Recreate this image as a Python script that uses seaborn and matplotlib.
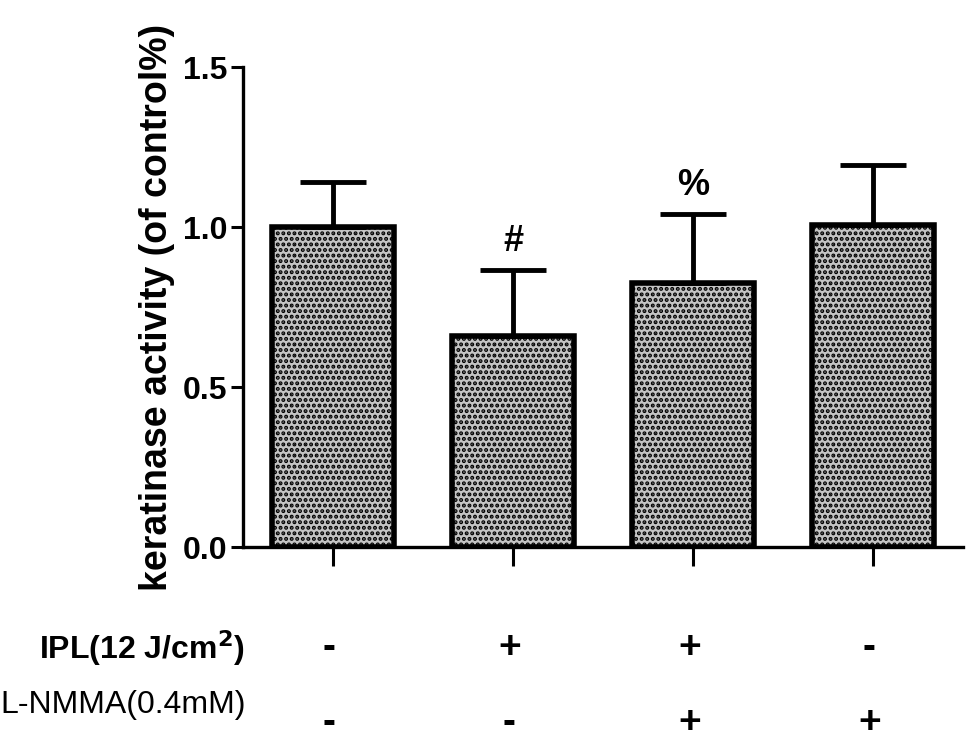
import matplotlib
matplotlib.use("Agg")
import matplotlib.pyplot as plt
import numpy as np
import pandas as pd
import seaborn as sns

groups = ["ctrl", "IPL", "IPL+L-NMMA", "L-NMMA"]
means = [1.00, 0.66, 0.825, 1.005]
errors = [0.14, 0.205, 0.215, 0.19]
marks = ["", "#", "%", ""]
ipl_signs = ["-", "+", "+", "-"]
nmma_signs = ["-", "-", "+", "+"]

sns.set_theme(style="ticks")
plt.rcParams["font.family"] = ["Liberation Sans", "DejaVu Sans"]
plt.rcParams["hatch.color"] = "black"
plt.rcParams["hatch.linewidth"] = 2.0
plt.rcParams["text.color"] = "black"
plt.rcParams["axes.labelcolor"] = "black"

df = pd.DataFrame({"group": groups, "value": means})

fig = plt.figure(figsize=(9.77, 7.54), dpi=100)
ax = fig.add_axes([0.2487, 0.2745, 0.737, 0.6366])

sns.barplot(data=df, x="group", y="value", color="white", width=0.68,
            errorbar=None, edgecolor="black", linewidth=4, ax=ax)
for patch in ax.patches:
    patch.set_hatch("...")
    patch.set_facecolor("#c4c4c4")

x = np.arange(len(groups))
ax.errorbar(x, means, yerr=[np.zeros(len(means)), errors], fmt="none",
            ecolor="black", elinewidth=3.5, capsize=24, capthick=3.5, zorder=1)

for xi, m, e, t in zip(x, means, errors, marks):
    if t:
        ax.text(xi, m + e + 0.035, t, ha="center", va="bottom",
                fontsize=26, fontweight="bold", color="black")

ax.set_xlim(-0.5, 3.5)
ax.set_ylim(0, 1.5)
ax.set_yticks([0.0, 0.5, 1.0, 1.5])
ax.set_yticklabels(["0.0", "0.5", "1.0", "1.5"], fontsize=23, fontweight="bold")
ax.set_xticks(x)
ax.set_xticklabels([])
ax.set_xlabel("")
ax.set_ylabel("keratinase activity (of control%)", fontsize=27,
              fontweight="bold", labelpad=6, color="black")
ax.tick_params(axis="y", length=9, width=2.2, color="black", labelcolor="black", pad=2)
ax.tick_params(axis="x", length=14, width=2.2, color="black")
for side in ["left", "bottom"]:
    ax.spines[side].set_linewidth(2.4)
    ax.spines[side].set_color("black")
sns.despine(ax=ax)

# +/- rows under the bars, x follows the bar centres
trans_row = matplotlib.transforms.blended_transform_factory(ax.transData, fig.transFigure)
for xi, s in zip(x, ipl_signs):
    ax.text(xi - 0.02, 0.140, s, transform=trans_row, ha="center", va="center",
            fontsize=28, fontweight="bold", color="black")
for xi, s in zip(x, nmma_signs):
    ax.text(xi - 0.02, 0.041, s, transform=trans_row, ha="center", va="center",
            fontsize=28, fontweight="bold", color="black")

fig.text(0.251, 0.140, "IPL(12 J/cm$^{\\mathbf{2}}$)", ha="right", va="center",
         fontsize=23, fontweight="bold", color="black")
fig.text(0.0, 0.065, "L-NMMA(0.4mM)", ha="left", va="center",
         fontsize=23, color="black")

fig.savefig("out.png", dpi=100, facecolor="white")
